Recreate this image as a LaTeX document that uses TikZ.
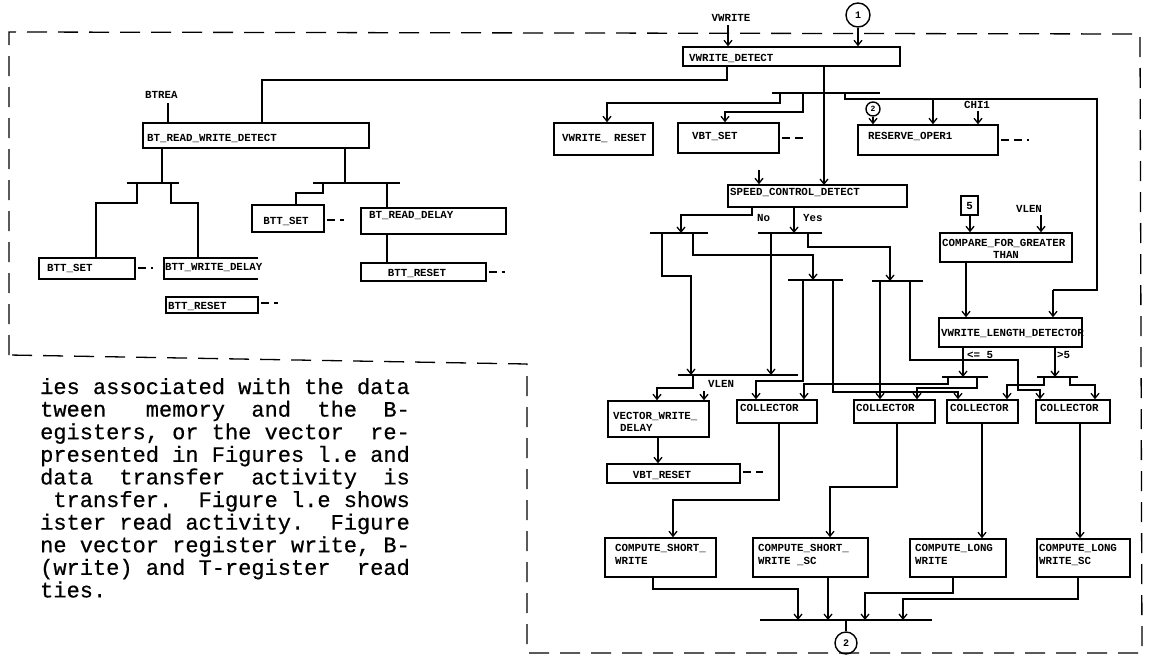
\documentclass[tikz,border=0pt]{standalone}
\usepackage{fontspec}
\usetikzlibrary{arrows.meta,fit}
\newfontfamily\monofam{Liberation Mono}
\newfontfamily\typefam[FakeBold=0.5]{Liberation Mono}
\begin{document}
\begin{tikzpicture}[x=1pt,y=-1pt,
  box/.style={draw, line width=1.5pt, inner sep=0pt, rectangle},
  ghost/.style={inner sep=0pt, rectangle},
  boxline/.style={line width=1.5pt},
  lbl/.style={font=\monofam\bfseries\fontsize{10.8}{12}\selectfont, inner sep=0pt, anchor=base west},
  clbl/.style={lbl, anchor=base},
  wire/.style={line width=1.3pt, line join=miter},
  arr/.style={wire, -{Straight Barb[length=5pt,width=8pt]}},
  bar/.style={line width=2.1pt},
  stub/.style={line width=1.5pt, dash pattern=on 8pt off 5pt},
  border/.style={line width=1.3pt, dash pattern=on 20pt off 11pt},
  conn/.style={draw, circle, line width=1.4pt, inner sep=0pt, font=\monofam\bfseries\fontsize{10}{10}\selectfont},
  para/.style={font=\typefam\fontsize{22}{22}\selectfont\frenchspacing, inner sep=0pt, anchor=base west}]
\useasboundingbox (0,0) rectangle (1149,659);
\fill[white] (0,0) rectangle (1149,659);

% dashed frame around the activity
\draw[border] (9,355) -- (9,32) -- (1140,34) -- (1142,653) -- (527,653) -- (527,364) -- cycle;

% ---------------- B/T register read-write group ----------------
\node[lbl] (btrea) at (145,98) {BTREA};
\node[box, fit={(143,123) (369,148)}] (brwd) {};
\node[lbl] (brwd-t) at (147,141) {BT\_READ\_WRITE\_DETECT};

\node[box, fit={(39,258) (135,279)}] (bttsL) {};
\node[lbl] (bttsL-t) at (47,271) {BTT\_SET};
\node[ghost, fit={(164,258) (258,279)}] (bttwd) {};
\draw[boxline] (bttwd.north east) -- (bttwd.north west) -- (bttwd.south west) -- (bttwd.south east);
\node[lbl] (bttwd-t) at (165,270) {BTT\_WRITE\_DELAY};
\node[box, fit={(166,297) (258,313)}] (bttrL) {};
\node[lbl] (bttrL-t) at (168,309) {BTT\_RESET};
\node[box, fit={(252,205) (324,232)}] (bttsR) {};
\node[clbl] (bttsR-t) at (286,224) {BTT\_SET};
\node[box, fit={(361,208) (506,234)}] (brd) {};
\node[lbl] (brd-t) at (369,218) {BT\_READ\_DELAY};
\node[box, fit={(361,263) (486,281)}] (bttrR) {};
\node[clbl] (bttrR-t) at (417,276) {BTT\_RESET};

\draw[stub] (bttsL.east |- 0,268) ++(2,0) -- ++(15,0);
\draw[stub] (bttrL.east |- 0,303) ++(2,0) -- ++(17,0);
\draw[stub] (bttsR.east |- 0,220) ++(2,0) -- ++(17,0);
\draw[stub] (bttrR.east |- 0,272) ++(2,0) -- ++(16,0);

\draw[wire, shorten <=5pt] (168,0 |- btrea.south) -- (168,0 |- brwd.north);
\draw[wire] (162,0 |- brwd.south) -- (162,183);
\draw[bar] (127,183) -- (179,183);
\draw[wire] (137,183) -- (137,203) -- (96,203) -- (96,0 |- bttsL.north);
\draw[wire] (171,183) -- (171,203) -- (198,203) -- (198,0 |- bttwd.north);
\draw[wire] (345,0 |- brwd.south) -- (345,183);
\draw[bar] (313,183) -- (400,183);
\draw[wire] (323,183) -- (323,193) -- (296,193) -- (296,0 |- bttsR.north);
\draw[wire] (387,183) -- (387,0 |- brd.north);
\draw[wire] (387,0 |- brd.south) -- (387,0 |- bttrR.north);

% ---------------- vector write group ----------------
\node[clbl] (vwlab) at (731,21) {VWRITE};
\node[conn, minimum size=24pt] (c1) at (858,15) {1};
\node[box, fit={(683,47) (900,66)}] (vwd) {};
\node[lbl] (vwd-t) at (689,61) {VWRITE\_DETECT};
\draw[arr, shorten <=4pt] (728,0 |- vwlab.south) -- (728,0 |- vwd.north);
\draw[arr] (c1.south) -- (c1.south |- vwd.north);

% link to the B/T group
\draw[wire] (262,0 |- brwd.north) -- (262,80) -- (727,80) -- (727,0 |- vwd.south);

\node[box, fit={(554,123) (653,155)}] (vwr) {};
\node[lbl] (vwr-t) at (562,141) {VWRITE\_ RESET};
\node[box, fit={(678,123) (779,153)}] (vbts) {};
\node[lbl] (vbts-t) at (692,139) {VBT\_SET};
\draw[stub] (vbts.east |- 0,138) ++(2,0) -- ++(22,0);
\node[box, fit={(858,125) (998,155)}] (ro1) {};
\node[lbl] (ro1-t) at (868,139) {RESERVE\_OPER1};
\draw[stub] (ro1.east |- 0,140) ++(2,0) -- ++(28,0);
\node[conn, minimum size=14pt, font=\monofam\bfseries\fontsize{8}{8}\selectfont] (c2s) at (873,109) {2};
\node[clbl] (chi) at (977,108) {CHI1};

\draw[bar] (772,93) -- (880,93);
\draw[arr] (824,0 |- vwd.south) -- (824,0 |- 0,185);
\draw[arr] (780,93) -- (780,103) -- (607,103) -- (607,0 |- vwr.north);
\draw[arr] (803,93) -- (803,112) -- (725,112) -- (725,0 |- vbts.north);
\draw[wire] (845,93) -- (845,99) -- (1097,99) -- (1097,290) -- (1053,290);
\draw[arr] (933,99) -- (933,0 |- ro1.north);
\draw[arr] (c2s.south) -- (c2s.south |- ro1.north);
\draw[arr, shorten <=3pt] (978,0 |- chi.south) -- (978,0 |- ro1.north);

\node[box, fit={(728,185) (907,207)}] (scd) {};
\node[lbl] (scd-t) at (730,195) {SPEED\_CONTROL\_DETECT};
\coordinate (scd-in) at (759,170);
\draw[arr] (scd-in) -- (scd-in |- scd.north);
\node[lbl] (no) at (757,221) {No};
\node[lbl] (yes) at (803,221) {Yes};

% branch bars
\draw[bar] (650,233) -- (708,233);
\draw[bar] (758,233) -- (822,233);
\draw[bar] (788,280) -- (843,280);
\draw[bar] (872,281) -- (923,281);
\draw[bar] (678,375) -- (798,375);
\draw[bar] (942,377) -- (988,377);
\draw[bar] (1037,377) -- (1078,377);

\draw[arr] (752,0 |- scd.south) -- (752,215) -- (681,215) -- (681,233);
\draw[arr] (794,0 |- scd.south) -- (794,233);

\draw[arr] (662,233) -- (662,276) -- (691,276) -- (691,375);
\draw[arr] (693,233) -- (693,255) -- (813,255) -- (813,280);
\draw[arr] (771,233) -- (771,375);
\draw[arr] (808,233) -- (808,247) -- (890,247) -- (890,281);

% length comparison
\node[box, minimum width=17pt, minimum height=19pt, font=\monofam\bfseries\fontsize{10.8}{12}\selectfont] (five) at (969.5,205.5) {5};
\node[clbl] (vlen1) at (1029,212) {VLEN};
\node[box, fit={(940,233) (1072,262)}] (cmp) {};
\node[lbl] (cmp-t) at (942,246) {COMPARE\_FOR\_GREATER};
\node[clbl] (cmp-t2) at (1006,258) {THAN};
\draw[arr] (970,0 |- five.south) -- (970,0 |- cmp.north);
\draw[arr, shorten <=3pt] (1041,0 |- vlen1.south) -- (1041,0 |- cmp.north);

\node[box, fit={(939,318) (1082,347)}] (vwld) {};
\node[lbl] (vwld-t) at (941,336) {VWRITE\_LENGTH\_DETECTOR};
\draw[arr] (966,0 |- cmp.south) -- (966,0 |- vwld.north);
\draw[arr] (1053,290) -- (1053,0 |- vwld.north);
\node[lbl] (le5) at (967,358) {<= 5};
\node[lbl] (gt5) at (1057,358) {>5};
\draw[arr] (963,0 |- vwld.south) -- (963,377);
\draw[arr] (1055,0 |- vwld.south) -- (1055,377);

% collectors
\node[box, fit={(737,400) (817,423)}] (col1) {};
\node[lbl] (col1-t) at (740,411) {COLLECTOR};
\node[box, fit={(854,400) (935,423)}] (col2) {};
\node[lbl] (col2-t) at (856,411) {COLLECTOR};
\node[box, fit={(947,400) (1018,423)}] (col3) {};
\node[lbl] (col3-t) at (950,411) {COLLECTOR};
\node[box, fit={(1036,400) (1110,423)}] (col4) {};
\node[lbl] (col4-t) at (1040,411) {COLLECTOR};

\draw[arr] (803,280) -- (803,381) -- (756,381) -- (756,0 |- col1.north);
\draw[arr] (833,280) -- (833,392) -- (958,392) -- (958,0 |- col3.north);
\draw[arr] (880,281) -- (880,0 |- col2.north);
\draw[arr] (910,281) -- (910,360) -- (1018,360) -- (1018,390) -- (1040,390) -- (1040,0 |- col4.north);
\draw[arr] (948,377) -- (948,384) -- (804,384) -- (804,0 |- col1.north);
\draw[arr] (977,377) -- (977,388) -- (917,388) -- (917,0 |- col2.north);
\draw[arr] (1044,377) -- (1044,385) -- (1007,385) -- (1007,0 |- col3.north);
\draw[arr] (1070,377) -- (1070,385) -- (1095,385) -- (1095,0 |- col4.north);

% vector write delay path
\node[box, fit={(608,401) (709,437)}] (vwdl) {};
\node[lbl] (vwdl-t) at (613,419) {VECTOR\_WRITE\_};
\node[lbl] (vwdl-t2) at (620,431) {DELAY};
\node[lbl] (vlen2) at (708,387) {VLEN};
\coordinate (vlen2-in) at (704,391);
\draw[arr] (693,375) -- (693,388) -- (657,388) -- (657,0 |- vwdl.north);
\draw[arr] (vlen2-in) -- (vlen2-in |- vwdl.north);
\node[box, fit={(607,464) (740,483)}] (vbtr) {};
\node[clbl] (vbtr-t) at (662,478) {VBT\_RESET};
\draw[stub] (vbtr.east |- 0,472) ++(2,0) -- ++(20,0);
\draw[arr] (658,0 |- vwdl.south) -- (658,0 |- vbtr.north);

% compute blocks
\node[box, fit={(605,538) (716,577)}] (csw) {};
\node[lbl] (csw-t) at (615,551) {COMPUTE\_SHORT\_};
\node[lbl] (csw-t2) at (615,564) {WRITE};
\node[box, fit={(753,538) (868,577)}] (cssc) {};
\node[lbl] (cssc-t) at (758,551) {COMPUTE\_SHORT\_};
\node[lbl] (cssc-t2) at (758,564) {WRITE \_SC};
\node[box, fit={(910,539) (1006,577)}] (clw) {};
\node[lbl] (clw-t) at (915,551) {COMPUTE\_LONG};
\node[lbl] (clw-t2) at (915,564) {WRITE};
\node[box, fit={(1037,539) (1130,577)}] (clsc) {};
\node[lbl] (clsc-t) at (1039,551) {COMPUTE\_LONG};
\node[lbl] (clsc-t2) at (1039,564) {WRITE\_SC};

\draw[arr] (779,0 |- col1.south) -- (779,500) -- (673,500) -- (673,0 |- csw.north);
\draw[arr] (897,0 |- col2.south) -- (897,487) -- (830,487) -- (830,0 |- cssc.north);
\draw[arr] (982,0 |- col3.south) -- (982,0 |- clw.north);
\draw[arr] (1080,0 |- col4.south) -- (1080,0 |- clsc.north);

% merge into connector 2
\draw[bar] (760,620) -- (932,620);
\draw[arr] (653,0 |- csw.south) -- (653,589) -- (798,589) -- (798,620);
\draw[arr] (828,0 |- cssc.south) -- (828,620);
\draw[arr] (953,0 |- clw.south) -- (953,593) -- (865,593) -- (865,620);
\draw[arr] (1078,0 |- clsc.south) -- (1078,599) -- (903,599) -- (903,620);
\node[conn, minimum size=22pt] (c2b) at (846,643) {2};
\draw[wire] (846,620) -- (c2b.north);

% accompanying text column
\node[para] (p1) at (40,394) {ies~associated~with~the~data};
\node[para] (p2) at (40,416.6) {tween~~~memory~~and~~the~~B-};
\node[para] (p3) at (40,439.2) {egisters,~or~the~vector~~re-};
\node[para] (p4) at (40,461.8) {presented~in~Figures~l.e~and};
\node[para] (p5) at (40,484.4) {data~~transfer~~activity~~is};
\node[para] (p6) at (40,507) {~transfer.~~Figure~l.e~shows};
\node[para] (p7) at (40,529.6) {ister~read~activity.~~Figure};
\node[para] (p8) at (40,552.2) {ne~vector~register~write,~B-};
\node[para] (p9) at (40,574.8) {(write)~and~T-register~~read};
\node[para] (p10) at (40,597.4) {ties.};
\end{tikzpicture}
\end{document}
